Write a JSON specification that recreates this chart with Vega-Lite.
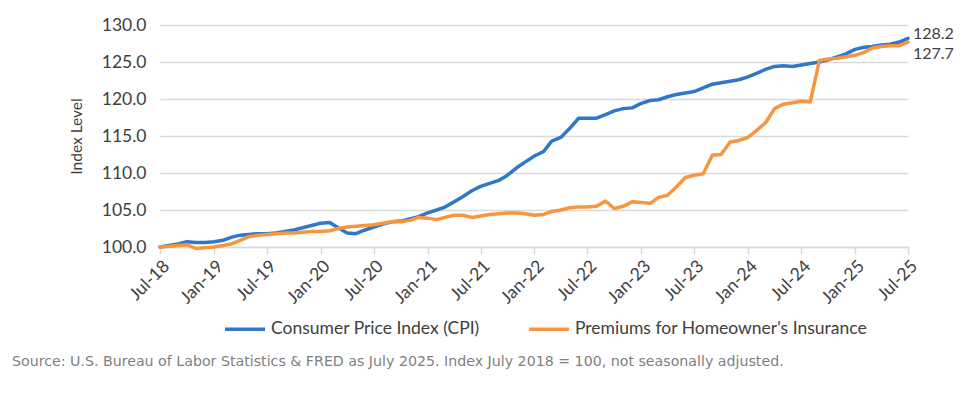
{
  "$schema": "https://vega.github.io/schema/vega-lite/v6.json",
  "width": 748,
  "height": 222,
  "autosize": {"type": "none"},
  "padding": {"left": 160, "top": 25, "right": 67, "bottom": 148},
  "background": "white",
  "config": {"view": {"stroke": null}, "font": "Lato"},
  "title": {
    "text": "Source: U.S. Bureau of Labor Statistics & FRED as July 2025. Index July 2018 = 100, not seasonally adjusted.",
    "orient": "bottom", "anchor": "start", "frame": "group", "dx": -148, "offset": 17,
    "font": "DejaVu Sans", "fontSize": 14.2, "fontWeight": "normal", "color": "#7f7f7f"
  },
  "data": {"values": [
    {"series":"Consumer Price Index (CPI)","date":"2018-07-01","value":100.0},{"series":"Consumer Price Index (CPI)","date":"2018-08-01","value":100.2},{"series":"Consumer Price Index (CPI)","date":"2018-09-01","value":100.4},{"series":"Consumer Price Index (CPI)","date":"2018-10-01","value":100.7},{"series":"Consumer Price Index (CPI)","date":"2018-11-01","value":100.6},{"series":"Consumer Price Index (CPI)","date":"2018-12-01","value":100.6},
    {"series":"Consumer Price Index (CPI)","date":"2019-01-01","value":100.7},{"series":"Consumer Price Index (CPI)","date":"2019-02-01","value":100.9},{"series":"Consumer Price Index (CPI)","date":"2019-03-01","value":101.3},{"series":"Consumer Price Index (CPI)","date":"2019-04-01","value":101.6},{"series":"Consumer Price Index (CPI)","date":"2019-05-01","value":101.7},{"series":"Consumer Price Index (CPI)","date":"2019-06-01","value":101.8},
    {"series":"Consumer Price Index (CPI)","date":"2019-07-01","value":101.8},{"series":"Consumer Price Index (CPI)","date":"2019-08-01","value":101.9},{"series":"Consumer Price Index (CPI)","date":"2019-09-01","value":102.1},{"series":"Consumer Price Index (CPI)","date":"2019-10-01","value":102.3},{"series":"Consumer Price Index (CPI)","date":"2019-11-01","value":102.6},{"series":"Consumer Price Index (CPI)","date":"2019-12-01","value":102.9},
    {"series":"Consumer Price Index (CPI)","date":"2020-01-01","value":103.2},{"series":"Consumer Price Index (CPI)","date":"2020-02-01","value":103.3},{"series":"Consumer Price Index (CPI)","date":"2020-03-01","value":102.6},{"series":"Consumer Price Index (CPI)","date":"2020-04-01","value":101.9},{"series":"Consumer Price Index (CPI)","date":"2020-05-01","value":101.8},{"series":"Consumer Price Index (CPI)","date":"2020-06-01","value":102.3},
    {"series":"Consumer Price Index (CPI)","date":"2020-07-01","value":102.7},{"series":"Consumer Price Index (CPI)","date":"2020-08-01","value":103.1},{"series":"Consumer Price Index (CPI)","date":"2020-09-01","value":103.4},{"series":"Consumer Price Index (CPI)","date":"2020-10-01","value":103.5},{"series":"Consumer Price Index (CPI)","date":"2020-11-01","value":103.8},{"series":"Consumer Price Index (CPI)","date":"2020-12-01","value":104.1},
    {"series":"Consumer Price Index (CPI)","date":"2021-01-01","value":104.6},{"series":"Consumer Price Index (CPI)","date":"2021-02-01","value":105.0},{"series":"Consumer Price Index (CPI)","date":"2021-03-01","value":105.4},{"series":"Consumer Price Index (CPI)","date":"2021-04-01","value":106.1},{"series":"Consumer Price Index (CPI)","date":"2021-05-01","value":106.8},{"series":"Consumer Price Index (CPI)","date":"2021-06-01","value":107.6},
    {"series":"Consumer Price Index (CPI)","date":"2021-07-01","value":108.2},{"series":"Consumer Price Index (CPI)","date":"2021-08-01","value":108.6},{"series":"Consumer Price Index (CPI)","date":"2021-09-01","value":109.0},{"series":"Consumer Price Index (CPI)","date":"2021-10-01","value":109.7},{"series":"Consumer Price Index (CPI)","date":"2021-11-01","value":110.7},{"series":"Consumer Price Index (CPI)","date":"2021-12-01","value":111.5},
    {"series":"Consumer Price Index (CPI)","date":"2022-01-01","value":112.3},{"series":"Consumer Price Index (CPI)","date":"2022-02-01","value":112.9},{"series":"Consumer Price Index (CPI)","date":"2022-03-01","value":114.3},{"series":"Consumer Price Index (CPI)","date":"2022-04-01","value":114.8},{"series":"Consumer Price Index (CPI)","date":"2022-05-01","value":116.0},{"series":"Consumer Price Index (CPI)","date":"2022-06-01","value":117.4},
    {"series":"Consumer Price Index (CPI)","date":"2022-07-01","value":117.4},{"series":"Consumer Price Index (CPI)","date":"2022-08-01","value":117.4},{"series":"Consumer Price Index (CPI)","date":"2022-09-01","value":117.9},{"series":"Consumer Price Index (CPI)","date":"2022-10-01","value":118.4},{"series":"Consumer Price Index (CPI)","date":"2022-11-01","value":118.7},{"series":"Consumer Price Index (CPI)","date":"2022-12-01","value":118.8},
    {"series":"Consumer Price Index (CPI)","date":"2023-01-01","value":119.4},{"series":"Consumer Price Index (CPI)","date":"2023-02-01","value":119.8},{"series":"Consumer Price Index (CPI)","date":"2023-03-01","value":119.9},{"series":"Consumer Price Index (CPI)","date":"2023-04-01","value":120.3},{"series":"Consumer Price Index (CPI)","date":"2023-05-01","value":120.6},{"series":"Consumer Price Index (CPI)","date":"2023-06-01","value":120.8},
    {"series":"Consumer Price Index (CPI)","date":"2023-07-01","value":121.0},{"series":"Consumer Price Index (CPI)","date":"2023-08-01","value":121.5},{"series":"Consumer Price Index (CPI)","date":"2023-09-01","value":122.0},{"series":"Consumer Price Index (CPI)","date":"2023-10-01","value":122.2},{"series":"Consumer Price Index (CPI)","date":"2023-11-01","value":122.4},{"series":"Consumer Price Index (CPI)","date":"2023-12-01","value":122.6},
    {"series":"Consumer Price Index (CPI)","date":"2024-01-01","value":123.0},{"series":"Consumer Price Index (CPI)","date":"2024-02-01","value":123.5},{"series":"Consumer Price Index (CPI)","date":"2024-03-01","value":124.0},{"series":"Consumer Price Index (CPI)","date":"2024-04-01","value":124.4},{"series":"Consumer Price Index (CPI)","date":"2024-05-01","value":124.5},{"series":"Consumer Price Index (CPI)","date":"2024-06-01","value":124.4},
    {"series":"Consumer Price Index (CPI)","date":"2024-07-01","value":124.6},{"series":"Consumer Price Index (CPI)","date":"2024-08-01","value":124.8},{"series":"Consumer Price Index (CPI)","date":"2024-09-01","value":125.0},{"series":"Consumer Price Index (CPI)","date":"2024-10-01","value":125.3},{"series":"Consumer Price Index (CPI)","date":"2024-11-01","value":125.7},{"series":"Consumer Price Index (CPI)","date":"2024-12-01","value":126.1},
    {"series":"Consumer Price Index (CPI)","date":"2025-01-01","value":126.7},{"series":"Consumer Price Index (CPI)","date":"2025-02-01","value":127.0},{"series":"Consumer Price Index (CPI)","date":"2025-03-01","value":127.1},{"series":"Consumer Price Index (CPI)","date":"2025-04-01","value":127.3},{"series":"Consumer Price Index (CPI)","date":"2025-05-01","value":127.4},{"series":"Consumer Price Index (CPI)","date":"2025-06-01","value":127.7},
    {"series":"Consumer Price Index (CPI)","date":"2025-07-01","value":128.2},
    {"series":"Premiums for Homeowner's Insurance","date":"2018-07-01","value":100.0},{"series":"Premiums for Homeowner's Insurance","date":"2018-08-01","value":100.1},{"series":"Premiums for Homeowner's Insurance","date":"2018-09-01","value":100.2},{"series":"Premiums for Homeowner's Insurance","date":"2018-10-01","value":100.3},{"series":"Premiums for Homeowner's Insurance","date":"2018-11-01","value":99.8},{"series":"Premiums for Homeowner's Insurance","date":"2018-12-01","value":99.9},
    {"series":"Premiums for Homeowner's Insurance","date":"2019-01-01","value":100.0},{"series":"Premiums for Homeowner's Insurance","date":"2019-02-01","value":100.2},{"series":"Premiums for Homeowner's Insurance","date":"2019-03-01","value":100.4},{"series":"Premiums for Homeowner's Insurance","date":"2019-04-01","value":100.9},{"series":"Premiums for Homeowner's Insurance","date":"2019-05-01","value":101.4},{"series":"Premiums for Homeowner's Insurance","date":"2019-06-01","value":101.6},
    {"series":"Premiums for Homeowner's Insurance","date":"2019-07-01","value":101.7},{"series":"Premiums for Homeowner's Insurance","date":"2019-08-01","value":101.8},{"series":"Premiums for Homeowner's Insurance","date":"2019-09-01","value":101.9},{"series":"Premiums for Homeowner's Insurance","date":"2019-10-01","value":101.9},{"series":"Premiums for Homeowner's Insurance","date":"2019-11-01","value":102.0},{"series":"Premiums for Homeowner's Insurance","date":"2019-12-01","value":102.1},
    {"series":"Premiums for Homeowner's Insurance","date":"2020-01-01","value":102.1},{"series":"Premiums for Homeowner's Insurance","date":"2020-02-01","value":102.2},{"series":"Premiums for Homeowner's Insurance","date":"2020-03-01","value":102.5},{"series":"Premiums for Homeowner's Insurance","date":"2020-04-01","value":102.7},{"series":"Premiums for Homeowner's Insurance","date":"2020-05-01","value":102.8},{"series":"Premiums for Homeowner's Insurance","date":"2020-06-01","value":102.9},
    {"series":"Premiums for Homeowner's Insurance","date":"2020-07-01","value":103.0},{"series":"Premiums for Homeowner's Insurance","date":"2020-08-01","value":103.2},{"series":"Premiums for Homeowner's Insurance","date":"2020-09-01","value":103.4},{"series":"Premiums for Homeowner's Insurance","date":"2020-10-01","value":103.4},{"series":"Premiums for Homeowner's Insurance","date":"2020-11-01","value":103.6},{"series":"Premiums for Homeowner's Insurance","date":"2020-12-01","value":104.0},
    {"series":"Premiums for Homeowner's Insurance","date":"2021-01-01","value":103.9},{"series":"Premiums for Homeowner's Insurance","date":"2021-02-01","value":103.7},{"series":"Premiums for Homeowner's Insurance","date":"2021-03-01","value":104.0},{"series":"Premiums for Homeowner's Insurance","date":"2021-04-01","value":104.3},{"series":"Premiums for Homeowner's Insurance","date":"2021-05-01","value":104.3},{"series":"Premiums for Homeowner's Insurance","date":"2021-06-01","value":104.0},
    {"series":"Premiums for Homeowner's Insurance","date":"2021-07-01","value":104.2},{"series":"Premiums for Homeowner's Insurance","date":"2021-08-01","value":104.4},{"series":"Premiums for Homeowner's Insurance","date":"2021-09-01","value":104.5},{"series":"Premiums for Homeowner's Insurance","date":"2021-10-01","value":104.6},{"series":"Premiums for Homeowner's Insurance","date":"2021-11-01","value":104.6},{"series":"Premiums for Homeowner's Insurance","date":"2021-12-01","value":104.5},
    {"series":"Premiums for Homeowner's Insurance","date":"2022-01-01","value":104.3},{"series":"Premiums for Homeowner's Insurance","date":"2022-02-01","value":104.4},{"series":"Premiums for Homeowner's Insurance","date":"2022-03-01","value":104.8},{"series":"Premiums for Homeowner's Insurance","date":"2022-04-01","value":105.0},{"series":"Premiums for Homeowner's Insurance","date":"2022-05-01","value":105.3},{"series":"Premiums for Homeowner's Insurance","date":"2022-06-01","value":105.4},
    {"series":"Premiums for Homeowner's Insurance","date":"2022-07-01","value":105.4},{"series":"Premiums for Homeowner's Insurance","date":"2022-08-01","value":105.5},{"series":"Premiums for Homeowner's Insurance","date":"2022-09-01","value":106.2},{"series":"Premiums for Homeowner's Insurance","date":"2022-10-01","value":105.2},{"series":"Premiums for Homeowner's Insurance","date":"2022-11-01","value":105.5},{"series":"Premiums for Homeowner's Insurance","date":"2022-12-01","value":106.1},
    {"series":"Premiums for Homeowner's Insurance","date":"2023-01-01","value":106.0},{"series":"Premiums for Homeowner's Insurance","date":"2023-02-01","value":105.9},{"series":"Premiums for Homeowner's Insurance","date":"2023-03-01","value":106.7},{"series":"Premiums for Homeowner's Insurance","date":"2023-04-01","value":107.0},{"series":"Premiums for Homeowner's Insurance","date":"2023-05-01","value":108.1},{"series":"Premiums for Homeowner's Insurance","date":"2023-06-01","value":109.4},
    {"series":"Premiums for Homeowner's Insurance","date":"2023-07-01","value":109.7},{"series":"Premiums for Homeowner's Insurance","date":"2023-08-01","value":109.9},{"series":"Premiums for Homeowner's Insurance","date":"2023-09-01","value":112.4},{"series":"Premiums for Homeowner's Insurance","date":"2023-10-01","value":112.5},{"series":"Premiums for Homeowner's Insurance","date":"2023-11-01","value":114.2},{"series":"Premiums for Homeowner's Insurance","date":"2023-12-01","value":114.4},
    {"series":"Premiums for Homeowner's Insurance","date":"2024-01-01","value":114.8},{"series":"Premiums for Homeowner's Insurance","date":"2024-02-01","value":115.8},{"series":"Premiums for Homeowner's Insurance","date":"2024-03-01","value":116.8},{"series":"Premiums for Homeowner's Insurance","date":"2024-04-01","value":118.7},{"series":"Premiums for Homeowner's Insurance","date":"2024-05-01","value":119.3},{"series":"Premiums for Homeowner's Insurance","date":"2024-06-01","value":119.5},
    {"series":"Premiums for Homeowner's Insurance","date":"2024-07-01","value":119.7},{"series":"Premiums for Homeowner's Insurance","date":"2024-08-01","value":119.6},{"series":"Premiums for Homeowner's Insurance","date":"2024-09-01","value":125.2},{"series":"Premiums for Homeowner's Insurance","date":"2024-10-01","value":125.4},{"series":"Premiums for Homeowner's Insurance","date":"2024-11-01","value":125.5},{"series":"Premiums for Homeowner's Insurance","date":"2024-12-01","value":125.7},
    {"series":"Premiums for Homeowner's Insurance","date":"2025-01-01","value":125.9},{"series":"Premiums for Homeowner's Insurance","date":"2025-02-01","value":126.3},{"series":"Premiums for Homeowner's Insurance","date":"2025-03-01","value":126.9},{"series":"Premiums for Homeowner's Insurance","date":"2025-04-01","value":127.1},{"series":"Premiums for Homeowner's Insurance","date":"2025-05-01","value":127.2},{"series":"Premiums for Homeowner's Insurance","date":"2025-06-01","value":127.2},
    {"series":"Premiums for Homeowner's Insurance","date":"2025-07-01","value":127.7}
  ]},
  "encoding": {
    "x": {
      "field": "date", "type": "temporal",
      "scale": {"type": "utc", "nice": false, "domain": [{"year": 2018, "month": 7, "date": 1, "utc": true}, {"year": 2025, "month": 7, "date": 1, "utc": true}]},
      "axis": {
        "title": null,
        "labelExpr": "utcFormat(datum.value, '%b-%y')",
        "values": [
          {"year": 2018, "month": 7, "date": 1, "utc": true}, {"year": 2019, "month": 1, "date": 1, "utc": true},
          {"year": 2019, "month": 7, "date": 1, "utc": true}, {"year": 2020, "month": 1, "date": 1, "utc": true},
          {"year": 2020, "month": 7, "date": 1, "utc": true}, {"year": 2021, "month": 1, "date": 1, "utc": true},
          {"year": 2021, "month": 7, "date": 1, "utc": true}, {"year": 2022, "month": 1, "date": 1, "utc": true},
          {"year": 2022, "month": 7, "date": 1, "utc": true}, {"year": 2023, "month": 1, "date": 1, "utc": true},
          {"year": 2023, "month": 7, "date": 1, "utc": true}, {"year": 2024, "month": 1, "date": 1, "utc": true},
          {"year": 2024, "month": 7, "date": 1, "utc": true}, {"year": 2025, "month": 1, "date": 1, "utc": true},
          {"year": 2025, "month": 7, "date": 1, "utc": true}
        ],
        "labelAngle": -45, "labelFontSize": 17.5, "labelColor": "#404040", "labelPadding": 3,
        "labelOverlap": false, "labelFlush": false,
        "grid": false, "domainColor": "#d9d9d9", "domainWidth": 1.5,
        "tickColor": "#d9d9d9", "tickWidth": 1.5, "tickSize": 7
      }
    },
    "y": {
      "field": "value", "type": "quantitative",
      "scale": {"domain": [100, 130], "nice": false, "zero": false},
      "axis": {
        "title": "Index Level", "titleFontSize": 15.5, "titleFontWeight": "normal", "titleColor": "#404040", "titlePadding": 17,
        "values": [100, 105, 110, 115, 120, 125, 130], "format": ".1f", "labelOverlap": false,
        "labelFontSize": 17.5, "labelColor": "#404040", "labelPadding": 14,
        "domain": false, "ticks": false, "gridColor": "#d9d9d9", "gridWidth": 1.5
      }
    }
  },
  "layer": [
    {
      "mark": {"type": "line", "strokeWidth": 3.5, "strokeJoin": "round", "strokeCap": "round"},
      "encoding": {
        "color": {
          "field": "series", "type": "nominal",
          "scale": {"domain": ["Consumer Price Index (CPI)", "Premiums for Homeowner's Insurance"], "range": ["#2E78C7", "#F7963F"]},
          "legend": {
            "title": null, "orient": "none", "legendX": 63, "legendY": 282, "direction": "horizontal",
            "symbolType": "stroke", "symbolSize": 1600, "symbolStrokeWidth": 3.5, "labelLimit": 0,
            "labelFontSize": 17.5, "labelColor": "#404040", "labelOffset": 4, "columnPadding": 42
          }
        }
      }
    },
    {
      "transform": [{"filter": "utcyear(datum.date) == 2025 && utcmonth(datum.date) == 6 && datum.series == 'Consumer Price Index (CPI)'"}],
      "mark": {"type": "text", "align": "left", "baseline": "middle", "dx": 5, "dy": -4, "fontSize": 16, "color": "#404040"},
      "encoding": {"text": {"field": "value", "type": "quantitative", "format": ".1f"}}
    },
    {
      "transform": [{"filter": "utcyear(datum.date) == 2025 && utcmonth(datum.date) == 6 && datum.series != 'Consumer Price Index (CPI)'"}],
      "mark": {"type": "text", "align": "left", "baseline": "middle", "dx": 5, "dy": 12, "fontSize": 16, "color": "#404040"},
      "encoding": {"text": {"field": "value", "type": "quantitative", "format": ".1f"}}
    }
  ]
}
